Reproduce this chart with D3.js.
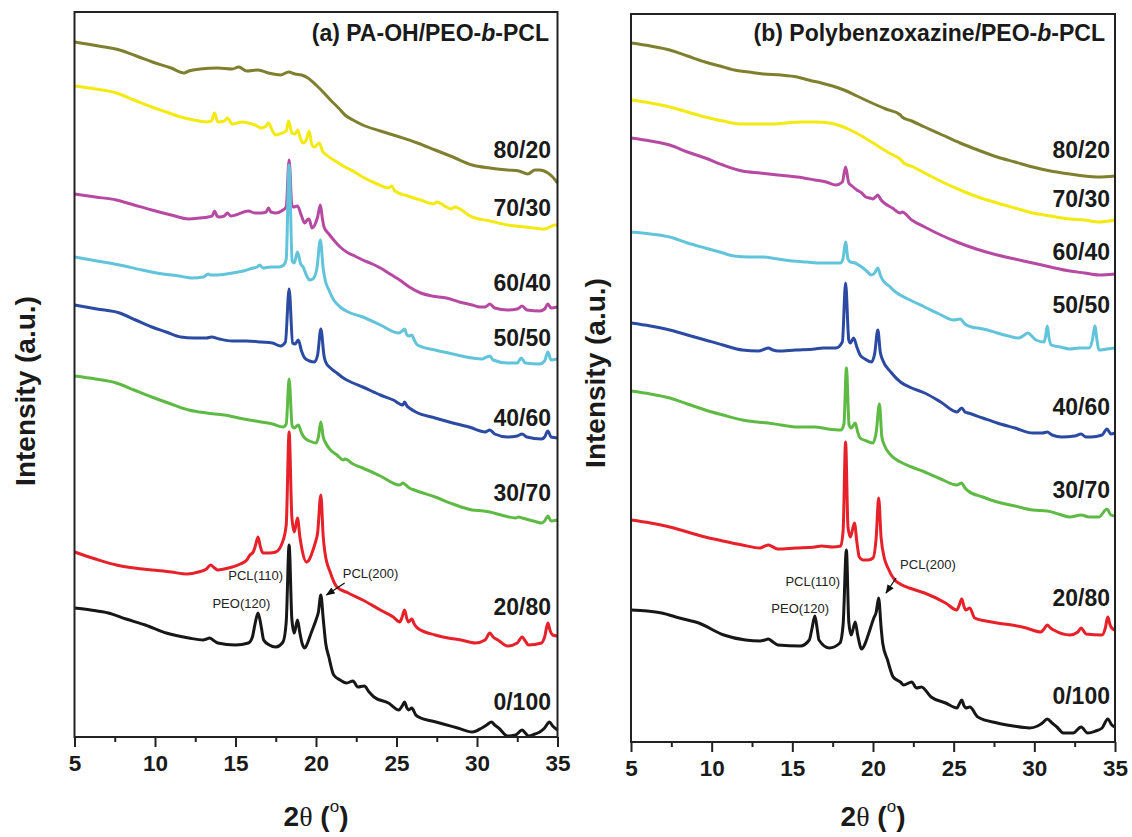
<!DOCTYPE html>
<html>
<head>
<meta charset="utf-8">
<script src="https://cdn.jsdelivr.net/npm/d3@7"></script>
<style>
body { margin: 0; background: #fff; }
svg { display: block; font-family: "Liberation Sans", Arial, sans-serif; }
.frame { fill: none; stroke: #222; stroke-width: 2; }
.xaxis path { display: none; }
.xaxis line { stroke: #222; stroke-width: 2; }
.xaxis text { font-size: 22.5px; font-weight: bold; fill: #1a1a1a; }
.trace { fill: none; stroke-width: 3; stroke-linejoin: round; }
.ratio { font-size: 23px; font-weight: bold; fill: #1a1a1a; }
.title { font-size: 23px; font-weight: bold; fill: #1a1a1a; }
.ylabel { font-size: 28px; font-weight: bold; fill: #1a1a1a; }
.xlabel { font-size: 28px; font-weight: bold; fill: #1a1a1a; }
.note { font-size: 13px; fill: #222; }
</style>
</head>
<body>
<div id="holder"></div>
<script>
// x axis
const xTicks = [5, 10, 15, 20, 25, 30, 35];
const xMinorTicks = [7.5, 12.5, 17.5, 22.5, 27.5, 32.5];

// blend ratios, top to bottom
const ratios = ["80/20", "70/30", "60/40", "50/50", "40/60", "30/70", "20/80", "0/100"];
const colors = ["#7f7f30", "#f3ea12", "#b64aa2", "#62c4da", "#2b4aa2", "#5eba44", "#e62129", "#171717"];

// (a) PA-OH/PEO-b-PCL  [2theta, intensity]
const paOh80_20 = [[5,695],[6.5,691],[7.8,687],[9,680],[9.84,675],[11,669],[11.8,664],[12.1,666],[12.8,668],[13.9,669],[14.8,668],[15.2,670],[15.7,666],[16.4,667],[17.05,664],[17.8,662],[18.3,665],[18.7,663],[19.1,662],[19.5,659],[20,652],[20.5,644],[20.9,637],[21.4,629],[21.8,622],[22.3,617],[22.9,612],[24,606],[25.2,600],[26.3,594],[27.4,587],[28.5,580],[29.7,572],[30.8,569],[31.9,567],[32.6,566],[33.15,563],[33.6,567],[33.9,567],[34.4,564],[34.7,560],[35,554]];
const paOh70_30 = [[5,651],[6.3,648],[7.6,644],[8.7,637],[9.8,630],[10.7,625],[11.6,620],[12.4,617],[13.2,615],[13.5,616],[13.7,624],[13.9,615],[14.3,616],[14.5,619],[14.8,613],[15.4,615],[15.8,614],[16.2,612],[16.6,609],[16.9,611],[17.05,614],[17.3,606],[17.5,602],[17.9,604],[18.15,606],[18.3,616],[18.5,604],[18.7,603],[18.85,607],[19.05,598],[19.2,594],[19.4,597],[19.57,606],[19.75,592],[19.9,590],[20.2,594],[20.4,586],[20.65,582],[21.2,576],[21.8,570],[22.4,565],[22.9,560],[23.8,553],[24.5,549],[24.7,551],[24.9,546],[25.7,541],[26.5,537],[27.3,533],[27.5,535],[28.1,530],[28.4,528],[28.6,530],[29.7,520],[30.8,516],[31.9,512],[33,510],[34.2,508],[34.85,512],[35,511]];
const paOh60_40 = [[5,543],[6.3,540],[7.6,537],[8.7,532],[9.8,527],[11,522],[12.1,518],[12.8,519],[13.3,520],[13.55,521],[13.7,526],[13.85,521],[14.0,520],[14.3,521],[14.5,524],[14.7,521],[15.0,522],[15.8,526],[16.2,524],[16.6,524],[16.9,525],[17.05,529],[17.2,525],[17.5,524],[17.95,527],[18.15,530],[18.33,577],[18.5,532],[18.6,530],[18.85,531],[19.1,521],[19.3,514],[19.45,517],[19.57,518],[19.75,509],[19.95,513],[20.1,520],[20.27,532],[20.4,518],[20.5,510],[20.8,503],[21.1,497],[21.5,490],[22.0,484],[22.4,481],[22.9,477],[23.5,473],[24.0,469],[24.6,463],[25.2,457],[25.8,450],[26.5,444],[27.2,441],[28.1,439],[28.9,435],[29.7,432],[30.2,430],[30.5,430],[30.8,433],[31.1,429],[31.9,427],[32.5,428],[32.8,431],[33.1,427],[33.9,426],[34.2,428],[34.4,433],[34.6,429],[35,430]];
const paOh50_50 = [[5,480],[6.4,476],[7.8,472],[9.2,467],[10.5,463],[11.5,461],[12.3,459],[13.0,460],[13.3,463],[13.45,462],[13.7,462],[14.8,464],[15.5,466],[16.1,469],[16.35,470],[16.5,472],[16.7,469],[17.2,470],[17.7,470],[18.0,472],[18.15,478],[18.33,572],[18.52,476],[18.65,474],[18.85,485],[19.05,473],[19.2,470],[19.4,462],[19.6,457],[19.8,458],[20.05,468],[20.27,497],[20.45,468],[20.6,455],[20.8,447],[21.1,437],[21.5,430],[22.0,425],[22.9,420],[24.0,412],[25.15,404],[25.35,406],[25.5,408],[25.65,402],[25.8,401],[25.95,402],[26.1,397],[26.3,392],[27.4,387],[28.5,383],[29.7,379],[30.3,378],[30.6,380],[30.8,381],[31.0,377],[31.9,374],[32.5,374],[32.75,379],[33.0,374],[33.9,373],[34.2,376],[34.4,385],[34.6,377],[35,378]];
const paOh40_60 = [[5,432],[6.4,428],[7.8,424],[8.8,417],[9.8,410],[10.7,405],[11.6,400],[12.4,399],[13.2,399],[13.5,400],[14.0,398],[14.8,396],[15.7,396],[16.6,395],[17.3,394],[17.8,391],[18.1,395],[18.33,448],[18.55,394],[18.7,393],[18.9,397],[19.1,386],[19.3,379],[19.6,376],[19.9,375],[20.1,382],[20.3,408],[20.5,381],[20.6,375],[20.9,369],[21.3,364],[21.7,359],[22.3,354],[22.9,350],[24.0,342],[24.8,337],[25.4,332],[25.5,335],[25.65,331],[25.8,329],[26.2,325],[27.4,319],[28.5,314],[29.7,309],[30.2,306],[30.5,305],[30.8,307],[31.1,303],[31.9,300],[32.5,301],[32.8,303],[33.1,300],[34.0,298],[34.2,300],[34.4,306],[34.6,300],[35,299]];
const paOh30_70 = [[5,361],[6.3,358],[7.6,354],[8.7,347],[9.8,340],[11,333],[12.1,327],[13.2,324],[14.3,322],[15.5,318],[16.6,315],[17.3,313],[17.95,310],[18.15,313],[18.33,358],[18.52,311],[18.65,309],[18.9,312],[19.1,304],[19.3,299],[19.6,296],[20.0,294],[20.15,300],[20.3,315],[20.45,300],[20.6,294],[20.9,287],[21.3,282],[21.7,277],[21.8,278],[22.3,273],[22.9,269],[24.0,261],[25.2,252],[25.4,254],[25.5,253],[25.8,249],[26.1,247],[27.4,240],[28.5,233],[29.7,227],[30.4,226],[30.8,225],[31.5,222],[32.4,219],[32.6,220],[32.8,219],[33.5,216],[34.0,214],[34.2,216],[34.4,221],[34.6,216],[35,217]];
const paOh20_80 = [[5,185],[6.3,178],[7.6,172],[8.7,169],[9.8,167],[11.0,165],[12.0,163],[12.7,165],[13.2,168],[13.45,172],[13.7,169],[13.9,167],[14.3,168],[14.8,170],[15.3,173],[15.7,177],[15.9,182],[16.1,185],[16.25,192],[16.4,200],[16.55,190],[16.7,184],[17.1,184],[17.5,185],[17.9,194],[18.15,212],[18.33,305],[18.5,220],[18.65,205],[18.85,219],[19.0,200],[19.15,186],[19.4,175],[19.6,178],[19.75,184],[19.95,194],[20.1,204],[20.3,242],[20.45,200],[20.55,185],[20.9,164],[21.3,150],[22.0,144],[22.9,137],[24.0,127],[24.8,120],[25.2,115],[25.35,120],[25.5,127],[25.65,118],[25.75,115],[25.95,118],[26.1,113],[26.3,109],[27.4,102],[28.2,99],[29.0,97],[29.9,94],[30.5,97],[30.8,104],[31.0,100],[31.3,97],[31.9,91],[32.5,94],[32.8,100],[33.0,96],[33.2,92],[34.0,94],[34.2,100],[34.4,114],[34.55,106],[34.7,102],[35,101]];
const paOh0_100 = [[5,129],[6,127],[7.1,124],[8.2,118],[9.4,112],[10.7,104],[12.1,99],[13.0,97],[13.2,98],[13.4,99],[13.6,97],[13.9,94],[15.0,92],[15.8,94],[16.05,100],[16.2,112],[16.4,124],[16.6,110],[16.75,97],[17.1,92],[17.5,90],[17.95,95],[18.15,115],[18.33,192],[18.5,118],[18.65,104],[18.85,117],[19.0,104],[19.15,93],[19.3,89],[19.5,95],[19.7,104],[20.0,117],[20.15,125],[20.3,142],[20.45,118],[20.6,94],[20.8,80],[21.1,62],[21.5,57],[21.9,54],[22.3,56],[22.6,50],[23.0,51],[23.3,45],[23.6,40],[24.5,34],[25.15,27],[25.35,31],[25.5,35],[25.65,29],[25.75,27],[25.95,29],[26.2,22],[26.5,19],[27.2,16],[27.9,13],[28.8,9],[29.7,5],[30.3,9],[30.6,12],[30.9,15],[31.1,12],[31.35,9],[31.9,1],[32.4,2],[32.8,7],[33.0,4],[33.2,1],[33.6,3],[33.9,5],[34.2,9],[34.5,15],[34.7,11],[35,7]];

// (b) Polybenzoxazine/PEO-b-PCL  [2theta, intensity]
const pbz80_20 = [[5,699],[6.2,696],[7.4,692],[8.5,686],[9.6,680],[10.5,676],[11.4,672],[12.3,670],[13.2,668],[14.3,667],[15.3,665],[16.0,662],[16.8,659],[17.5,656],[18.2,652],[19.0,646],[19.8,640],[20.8,633],[21.7,627],[21.8,625],[22.4,621],[23.2,615],[24.3,607],[25.4,599],[26.5,592],[27.7,585],[28.8,580],[29.9,575],[31.0,571],[32.2,568],[33.1,566],[34.0,565],[35,566]];
const pbz70_30 = [[5,642],[6.2,639],[7.4,635],[8.5,630],[9.6,625],[10.7,621],[11.9,618],[12.8,618],[13.7,618],[14.6,619],[15.5,620],[16.4,620],[17.3,619],[18.0,616],[18.6,612],[19.4,605],[20.2,597],[21.0,589],[21.8,581],[21.9,579],[22.5,575],[23.2,569],[24.3,560],[25.4,552],[26.5,545],[27.7,539],[28.8,534],[29.9,529],[31.0,526],[32.2,523],[33.1,522],[34.0,520],[35,522]];
const pbz60_40 = [[5,604],[6.2,601],[7.4,597],[8.5,590],[9.6,584],[10.7,577],[11.9,571],[13.0,569],[14.1,567],[15.3,565],[16.4,562],[17.1,560],[17.7,557],[18.1,560],[18.3,575],[18.5,559],[18.7,556],[19.0,552],[19.3,549],[19.55,545],[19.8,544],[20.0,543],[20.15,545],[20.3,547],[20.5,542],[20.7,539],[21.2,534],[21.7,529],[21.8,530],[22.4,522],[23.2,515],[24.2,507],[25.2,500],[26.4,493],[27.7,487],[28.8,483],[29.9,479],[31.0,475],[32.2,471],[33.1,469],[34.0,467],[35,468]];
const pbz50_50 = [[5,510],[6.2,508],[7.4,505],[8.5,499],[9.6,494],[10.5,490],[11.4,486],[12.3,485],[13.2,485],[14.1,483],[15.0,481],[15.9,480],[16.8,479],[17.5,479],[18.0,479],[18.15,484],[18.3,500],[18.45,483],[18.6,480],[18.9,479],[19.1,477],[19.3,475],[19.6,471],[19.9,467],[20.1,469],[20.3,474],[20.45,467],[20.6,462],[21.0,456],[21.4,450],[22.3,442],[23.2,435],[24.1,428],[25.0,422],[25.4,423],[25.7,418],[26.1,415],[26.5,414],[27.1,412],[27.7,409],[28.4,406],[29.0,404],[29.3,406],[29.6,409],[29.9,405],[30.1,402],[30.6,400],[30.7,406],[30.8,416],[30.9,405],[31.05,397],[31.6,395],[32.2,393],[32.8,394],[33.4,394],[33.6,402],[33.75,416],[33.9,400],[34.0,392],[34.5,393],[35,394]];
const pbz40_60 = [[5,419],[6.2,416],[7.4,412],[8.5,407],[9.6,402],[10.7,397],[11.9,392],[12.9,391],[13.3,393],[13.5,394],[13.8,392],[14.1,391],[15.2,392],[16.4,393],[16.9,394],[17.7,394],[18.1,400],[18.3,459],[18.5,402],[18.6,399],[18.8,404],[19.0,395],[19.2,387],[19.5,383],[19.9,380],[20.1,388],[20.3,412],[20.45,390],[20.6,382],[21.1,370],[21.7,360],[22.4,354],[23.2,349],[24.2,340],[25.2,330],[25.5,334],[25.7,330],[25.9,329],[26.8,324],[27.7,319],[28.8,314],[29.9,309],[30.5,309],[30.8,310],[31.1,307],[31.7,305],[32.5,306],[32.9,308],[33.2,305],[33.5,305],[34.2,307],[34.5,313],[34.75,308],[35,309]];
const pbz30_70 = [[5,351],[6.2,348],[7.4,344],[8.5,338],[9.6,332],[10.7,327],[11.9,322],[12.8,320],[13.5,319],[14.3,317],[15.3,315],[16.4,315],[17.2,313],[18.0,312],[18.2,318],[18.35,374],[18.52,317],[18.65,314],[18.9,319],[19.05,310],[19.2,304],[19.6,301],[20.0,299],[20.2,310],[20.4,338],[20.55,305],[20.7,297],[21.1,287],[21.7,280],[22.4,275],[23.2,270],[24.2,263],[25.2,257],[25.5,259],[25.7,254],[25.9,251],[26.8,245],[27.7,240],[28.8,236],[29.9,232],[30.8,231],[31.5,228],[32.2,225],[32.9,227],[33.4,225],[34.0,225],[34.5,233],[34.75,227],[35,226]];
const pbz20_80 = [[5,222],[6.2,219],[7.4,215],[8.5,210],[9.6,205],[10.7,201],[11.9,197],[13.0,194],[13.3,196],[13.5,197],[13.8,195],[14.1,193],[15.2,194],[16.4,195],[16.8,196],[17.5,195],[18.0,196],[18.15,212],[18.3,300],[18.45,215],[18.6,205],[18.85,219],[19.0,200],[19.15,185],[19.4,182],[19.7,182],[20.0,184],[20.2,205],[20.35,244],[20.5,205],[20.7,184],[20.9,175],[21.35,162],[21.8,157],[22.25,154],[23.2,149],[24.5,139],[25.2,132],[25.35,137],[25.5,143],[25.65,135],[25.75,132],[26.0,134],[26.3,124],[27.0,121],[27.7,119],[28.6,117],[29.5,114],[30.4,110],[30.6,113],[30.8,117],[31.0,114],[31.2,112],[32.2,107],[32.7,110],[32.9,114],[33.1,110],[33.2,108],[34.2,107],[34.4,114],[34.55,125],[34.7,117],[34.8,114],[35,112]];
const pbz0_100 = [[5,132],[6,131],[6.9,129],[8,124],[9.2,119],[10.75,107],[12.1,102],[13.0,101],[13.3,102],[13.5,103],[13.8,100],[14.1,97],[15.5,96],[16.05,102],[16.2,112],[16.4,126],[16.55,112],[16.65,102],[17.3,94],[17.95,99],[18.15,118],[18.35,192],[18.5,120],[18.65,107],[18.9,120],[19.05,107],[19.3,93],[19.5,98],[19.7,107],[20.05,124],[20.2,130],[20.35,144],[20.5,115],[20.6,99],[20.9,82],[21.25,65],[21.7,60],[21.9,57],[22.4,60],[22.7,54],[23.0,55],[23.6,45],[24.5,39],[25.2,34],[25.35,38],[25.5,42],[25.65,36],[25.75,34],[26.0,35],[26.5,25],[27.7,19],[28.7,16],[29.7,14],[30.2,16],[30.5,19],[30.8,23],[31.1,19],[31.4,15],[31.8,9],[32.4,9],[32.9,15],[33.3,9],[33.8,11],[34.2,14],[34.55,23],[34.8,17],[35,15]];

// peak labels: [text, 2theta, intensity, anchor]
const notesA = [["PCL(110)", 17.95, 162, "end"], ["PEO(120)", 17.16, 134, "end"], ["PCL(200)", 21.66, 164, "start"]];
const notesB = [["PCL(110)", 17.96, 161, "end"], ["PEO(120)", 17.28, 134, "end"], ["PCL(200)", 21.68, 178, "start"]];
// arrow to PCL(200): [from 2theta, from int, to 2theta, to int]
const arrowA = [21.78, 154, 20.65, 142];
const arrowB = [21.43, 164, 20.81, 149];

const w = 1132;
const h = 837;

const panels = [
    {
        series: [paOh80_20, paOh70_30, paOh60_40, paOh50_50, paOh40_60, paOh30_70, paOh20_80, paOh0_100],
        notes: notesA, arrow: arrowA,
        left: 74.5, right: 557.5, top: 12, bottom: 737, ymax: 725,
        titleParts: ["(a) PA-OH/PEO-", "b", "-PCL"], titleX: 549,
        labelX: 551, labelY: [150, 208, 283, 338, 418, 493, 607, 702],
        ylabelX: 25, ylabelY: 391
    },
    {
        series: [pbz80_20, pbz70_30, pbz60_40, pbz50_50, pbz40_60, pbz30_70, pbz20_80, pbz0_100],
        notes: notesB, arrow: arrowB,
        left: 631, right: 1115, top: 14, bottom: 742, ymax: 728,
        titleParts: ["(b) Polybenzoxazine/PEO-", "b", "-PCL"], titleX: 1105,
        labelX: 1110, labelY: [150, 199, 252, 305, 407, 490, 598, 696],
        ylabelX: 595, ylabelY: 373
    }
];

function drawPanel(svg, p) {
    let xScale = d3.scaleLinear().domain([5, 35]).range([p.left, p.right]);
    let yScale = d3.scaleLinear().domain([0, p.ymax]).range([p.bottom, p.top]);

    //Axes (ticks pointing out)
    const xAxis = d3.axisBottom(xScale)
        .tickValues(xTicks)
        .tickSize(10)
        .tickSizeOuter(0)
        .tickPadding(8)
        .tickFormat(d3.format("d"));
    svg.append("g")
        .attr("class", "xaxis")
        .attr("transform", "translate(0," + p.bottom + ")")
        .call(xAxis);

    const xMinor = d3.axisBottom(xScale)
        .tickValues(xMinorTicks)
        .tickSize(5)
        .tickSizeOuter(0)
        .tickFormat("");
    svg.append("g")
        .attr("class", "xaxis")
        .attr("transform", "translate(0," + p.bottom + ")")
        .call(xMinor);

    //traces
    let valueLine = d3.line()
        .x(d => xScale(d[0]))
        .y(d => yScale(d[1]))
        .curve(d3.curveMonotoneX);

    p.series.forEach((s, i) => {
        svg.append("path")
            .attr("class", "trace")
            .attr("stroke", colors[i])
            .attr("d", valueLine(s));
    });

    //frame
    svg.append("rect")
        .attr("class", "frame")
        .attr("x", p.left)
        .attr("y", p.top)
        .attr("width", p.right - p.left)
        .attr("height", p.bottom - p.top);

    //ratio labels
    ratios.forEach((r, i) => {
        svg.append("text")
            .attr("class", "ratio")
            .attr("text-anchor", "end")
            .attr("dominant-baseline", "central")
            .attr("x", p.labelX)
            .attr("y", p.labelY[i])
            .text(r);
    });

    //title
    let title = svg.append("text")
        .attr("class", "title")
        .attr("text-anchor", "end")
        .attr("dominant-baseline", "central")
        .attr("x", p.titleX)
        .attr("y", 33);
    title.append("tspan").text(p.titleParts[0]);
    title.append("tspan").style("font-style", "italic").text(p.titleParts[1]);
    title.append("tspan").text(p.titleParts[2]);

    //peak labels
    p.notes.forEach(n => {
        svg.append("text")
            .attr("class", "note")
            .attr("text-anchor", n[3])
            .attr("dominant-baseline", "central")
            .attr("x", xScale(n[1]))
            .attr("y", yScale(n[2]))
            .text(n[0]);
    });
    svg.append("line")
        .attr("x1", xScale(p.arrow[0]))
        .attr("y1", yScale(p.arrow[1]))
        .attr("x2", xScale(p.arrow[2]))
        .attr("y2", yScale(p.arrow[3]))
        .attr("stroke", "#111")
        .attr("stroke-width", 1.3)
        .attr("marker-end", "url(#arrowhead)");

    //Y Label
    svg.append("text")
        .attr("class", "ylabel")
        .attr("text-anchor", "middle")
        .attr("dominant-baseline", "central")
        .attr("transform", "translate(" + p.ylabelX + "," + p.ylabelY + ") rotate(-90)")
        .text("Intensity (a.u.)");

    //X Label
    let xl = svg.append("text")
        .attr("class", "xlabel")
        .attr("text-anchor", "middle")
        .attr("x", (p.left + p.right) / 2)
        .attr("y", 826);
    xl.append("tspan").text("2");
    xl.append("tspan").style("font-family", "'Liberation Serif', serif").style("font-weight", "normal").text("\u03B8");
    xl.append("tspan").text(" (");
    xl.append("tspan").attr("dy", -14).style("font-size", "17px").style("font-weight", "normal").text("o");
    xl.append("tspan").attr("dy", 14).text(")");
}

function visualize() {
    let svg = d3.select("#holder")
        .append("svg")
        .attr("width", w)
        .attr("height", h);
    svg.append("rect").attr("width", w).attr("height", h).attr("fill", "#fff");

    svg.append("defs").append("marker")
        .attr("id", "arrowhead")
        .attr("viewBox", "0 0 10 10")
        .attr("refX", 9)
        .attr("refY", 5)
        .attr("markerWidth", 7)
        .attr("markerHeight", 7)
        .attr("orient", "auto")
        .append("path")
        .attr("d", "M0,1 L10,5 L0,9 Z")
        .attr("fill", "#111");

    panels.forEach(p => drawPanel(svg, p));
}

visualize();
</script>
</body>
</html>
